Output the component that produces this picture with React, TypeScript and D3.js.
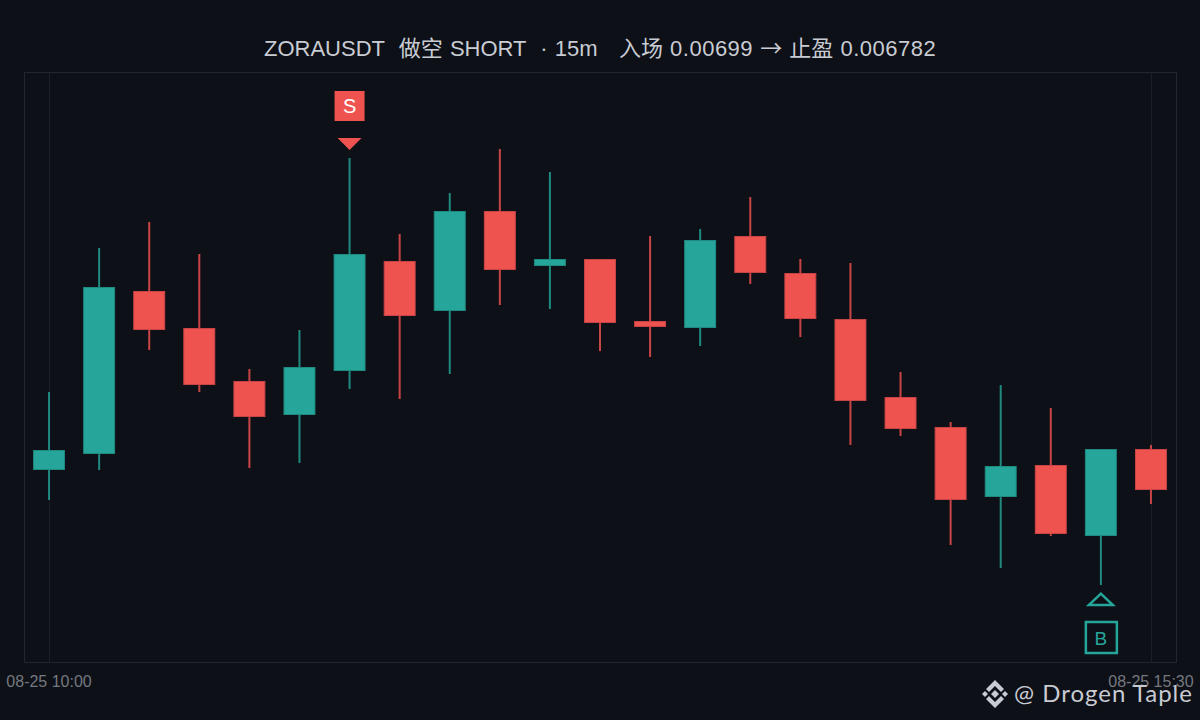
import { useEffect, useRef } from "react";
import { axisBottom, scaleBand, scaleLinear, select } from "d3";

const times = [
    "08-25 10:00", "08-25 10:15", "08-25 10:30", "08-25 10:45", "08-25 11:00", "08-25 11:15",
    "08-25 11:30", "08-25 11:45", "08-25 12:00", "08-25 12:15", "08-25 12:30", "08-25 12:45",
    "08-25 13:00", "08-25 13:15", "08-25 13:30", "08-25 13:45", "08-25 14:00", "08-25 14:15",
    "08-25 14:30", "08-25 14:45", "08-25 15:00", "08-25 15:15", "08-25 15:30",
];
const opens = [
    0.0067745, 0.0067905, 0.0069525, 0.0069155, 0.0068625, 0.0068295, 0.0068735, 0.0069825,
    0.0069335, 0.0070325, 0.0069785, 0.0069845, 0.0069225, 0.0069165, 0.0070075, 0.0069705,
    0.0069245, 0.0068465, 0.0068165, 0.0067475, 0.0067785, 0.0067085, 0.0067945,
];
const closes = [
    0.0067935, 0.0069565, 0.0069145, 0.0068595, 0.0068275, 0.0068765, 0.0069895, 0.0069285,
    0.0070325, 0.0069745, 0.0069845, 0.0069215, 0.0069175, 0.0070035, 0.0069715, 0.0069255,
    0.0068435, 0.0068155, 0.0067445, 0.0067775, 0.0067105, 0.0067945, 0.0067545,
];
const highs = [
    0.006852, 0.006996, 0.007022, 0.00699, 0.006875, 0.006914, 0.007086, 0.00701,
    0.007051, 0.007095, 0.007072, 0.006985, 0.007008, 0.007015, 0.007047, 0.006985,
    0.006981, 0.006872, 0.006822, 0.006859, 0.006836, 0.006795, 0.006799,
];
const lows = [
    0.006744, 0.006774, 0.006894, 0.006852, 0.006776, 0.006781, 0.006855, 0.006845,
    0.00687, 0.006939, 0.006935, 0.006893, 0.006887, 0.006898, 0.00696, 0.006907,
    0.006799, 0.006808, 0.006699, 0.006676, 0.006708, 0.006659, 0.00674,
];
const axisLabels = ["08-25 10:00", "08-25 15:30"];
const entryIndex = 6;
const exitIndex = 21;

const titleHead = "ZORAUSDT  做空 SHORT  · 15m   入场 ";
const titleEntry = "0.00699";
const titleArrow = "→";
const titleExit = "止盈 ";
const titleTarget = "0.006782";
const watermark = "@ Drogen Taple";

const UP = "#26a69a";
const DOWN = "#ef5350";
const UP_DARK = "#1f8a80";
const DOWN_DARK = "#c94545";
const BG = "#0d1017";
const FONT = "'Liberation Sans', 'Noto Sans CJK SC', sans-serif";
const CJK = "'Noto Sans CJK SC', sans-serif";

const frame = { left: 24.5, right: 1176.5, top: 72.5, bottom: 662.5 };

const scaleX = scaleBand<string>()
    .domain(times)
    .range([frame.left - 0.5, frame.right - 0.5])
    .paddingInner(0.382)
    .paddingOuter(0.191);
const scaleY = scaleLinear().domain([0.006582, 0.007172]).range([662, 72]);
const centerX = (i: number) => scaleX(times[i])! + scaleX.bandwidth() / 2;

const Axis = () => {
    const ref = useRef<SVGGElement>(null);

    useEffect(() => {
        if (ref.current) {
            const g = select(ref.current);
            g.call(axisBottom(scaleX).tickValues(axisLabels).tickSize(0).tickPadding(0) as any);
            g.select(".domain").remove();
            g.selectAll("text")
                .attr("y", 0)
                .attr("dy", 0)
                .attr("fill", "#75787f")
                .style("font-family", FONT)
                .style("font-size", "16px");
        }
    }, []);

    return <g ref={ref} transform="translate(0, 687)" />;
};

const Candles = () => (
    <>
        {times.map((t, i) => {
            const up = closes[i] >= opens[i];
            const x = centerX(i);
            const top = scaleY(Math.max(opens[i], closes[i]));
            const bottom = scaleY(Math.min(opens[i], closes[i]));
            return (
                <g key={t}>
                    <line
                        x1={x}
                        x2={x}
                        y1={scaleY(highs[i])}
                        y2={scaleY(lows[i])}
                        stroke={up ? UP_DARK : DOWN_DARK}
                        strokeWidth={2}
                    />
                    <rect
                        x={x - scaleX.bandwidth() / 2}
                        y={top}
                        width={scaleX.bandwidth()}
                        height={bottom - top}
                        fill={up ? UP : DOWN}
                        stroke={up ? UP_DARK : DOWN_DARK}
                        strokeWidth={1}
                    />
                </g>
            );
        })}
    </>
);

const SellMark = () => {
    const x = centerX(entryIndex);
    const y = scaleY(highs[entryIndex]);
    return (
        <g>
            <path d={`M${x - 12},${y - 20}L${x + 12},${y - 20}L${x},${y - 8}Z`} fill={DOWN} />
            <rect x={x - 15} y={y - 67} width={30} height={30} fill={DOWN} />
            <text x={x} y={y - 45} textAnchor="middle" fill="#ffffff" fontFamily={FONT} fontSize={20}>
                S
            </text>
        </g>
    );
};

const BuyMark = () => {
    const x = centerX(exitIndex);
    const y = scaleY(lows[exitIndex]);
    return (
        <g>
            <path
                d={`M${x - 12},${y + 20}L${x + 12},${y + 20}L${x},${y + 8.7}Z`}
                fill="none"
                stroke={UP}
                strokeWidth={2.5}
            />
            <rect x={x - 15} y={y + 37} width={31} height={31} fill="none" stroke={UP} strokeWidth={2.5} />
            <text x={x} y={y + 59.5} textAnchor="middle" fill={UP} fontFamily={FONT} fontSize={19}>
                B
            </text>
        </g>
    );
};

const Watermark = () => (
    <g fill="#c8cbd2">
        <g transform="translate(995, 694)">
            <path d="M0,-4 L4,0 L0,4 L-4,0Z" />
            <path d="M-10,-3 L-7,0 L-10,3 L-13,0Z" />
            <path d="M10,-3 L13,0 L10,3 L7,0Z" />
            <path d="M0,-14 L9,-5 L6,-2 L0,-8 L-6,-2 L-9,-5Z" />
            <path d="M0,14 L9,5 L6,2 L0,8 L-6,2 L-9,5Z" />
        </g>
        <text x={1014} y={702} fontFamily="Lato, sans-serif" fontSize={24} letterSpacing={1}>
            {watermark}
        </text>
    </g>
);

export default function App() {
    return (
        <svg width={1200} height={720} style={{ position: "absolute", left: 0, top: 0, display: "block", background: BG }}>
            <text
                x={264}
                y={56}
                fill="#c9ccd3"
                fontFamily={FONT}
                fontSize={22}
                wordSpacing={1}
                style={{ whiteSpace: "pre" }}
            >
                {titleHead}
                <tspan letterSpacing={0.5}>{titleEntry}</tspan>
                {" "}
                <tspan fontFamily={CJK}>{titleArrow}</tspan>
                {" "}
                {titleExit}
                <tspan letterSpacing={0.5}>{titleTarget}</tspan>
            </text>
            <rect
                x={frame.left}
                y={frame.top}
                width={frame.right - frame.left}
                height={frame.bottom - frame.top}
                fill="none"
                stroke="#23262d"
            />
            {[0, times.length - 1].map((i) => (
                <line
                    key={i}
                    x1={Math.round(centerX(i)) + 0.5}
                    x2={Math.round(centerX(i)) + 0.5}
                    y1={frame.top}
                    y2={frame.bottom}
                    stroke="#1c1f26"
                />
            ))}
            <Candles />
            <SellMark />
            <BuyMark />
            <Axis />
            <Watermark />
        </svg>
    );
}
